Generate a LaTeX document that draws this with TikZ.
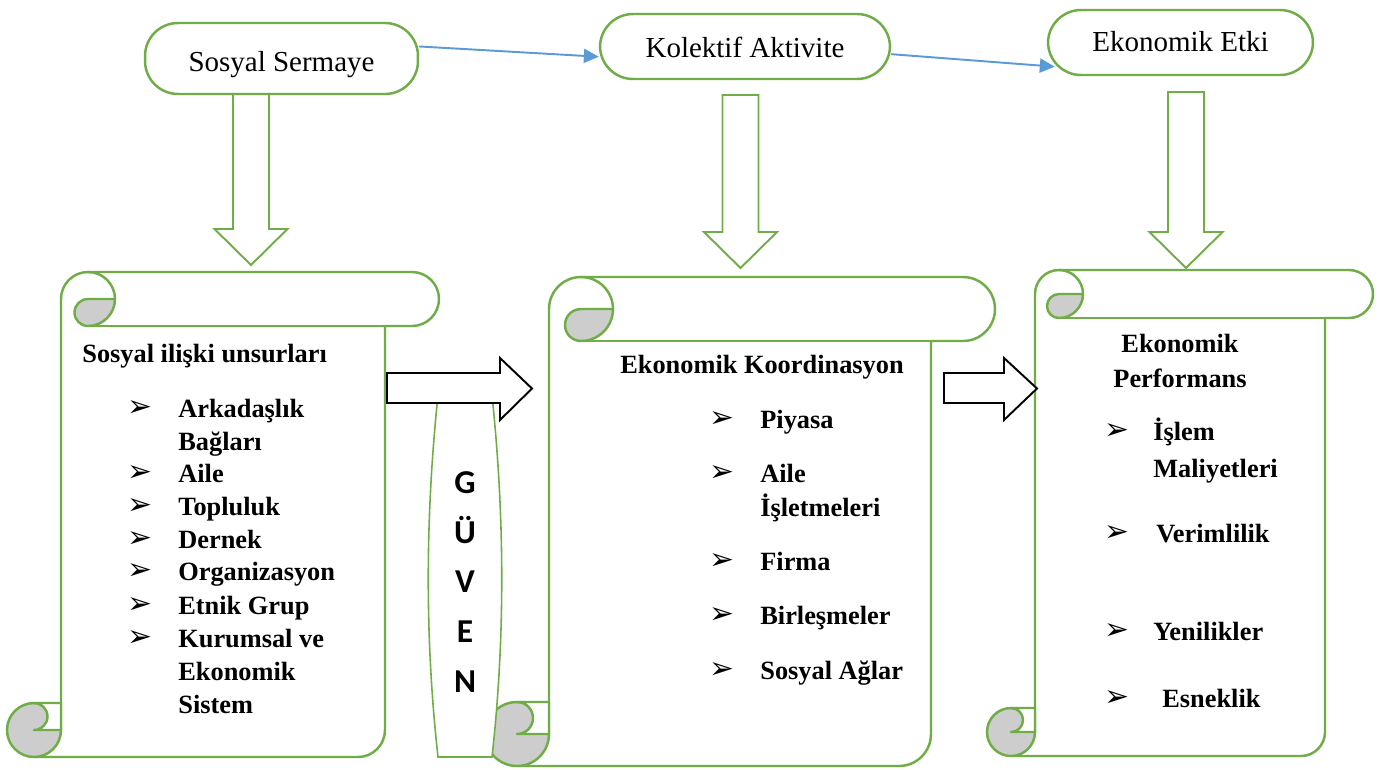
\documentclass[tikz,border=0pt]{standalone}
\usepackage{fontspec}
\setmainfont{Liberation Serif}
\newfontfamily\bulletfont{DejaVu Sans}
\newfontfamily\guvenfont{Carlito}
\usetikzlibrary{arrows.meta}
\definecolor{scrollgreen}{HTML}{70AD47}
\definecolor{linkblue}{HTML}{5B9BD5}
\definecolor{curlgray}{HTML}{CDCDCD}

\tikzset{
  topbox/.style={draw=scrollgreen, line width=1.4pt, fill=white, rounded corners=0.66cm,
    inner sep=0pt, text depth=0pt, text height=#1, font=\fontsize{16.5}{20}\selectfont},
  scroll/.style={draw=scrollgreen, line width=1.4pt, fill=white, line join=round},
  curl/.style={scroll, fill=curlgray},
  downarrow/.style={draw=scrollgreen, line width=1.1pt, fill=white},
  blockarrow/.style={draw=black, line width=1.1pt, fill=white},
  link/.style={draw=linkblue, line width=1.1pt, -{Triangle[length=8.5pt,width=8pt]}},
  item/.style={anchor=base west, inner sep=0pt, font=\bfseries\fontsize{15}{18}\selectfont},
  head/.style={item, anchor=base},
  bul/.style={inner sep=0pt, font=\bulletfont\fontsize{17}{19}\selectfont},
}

\begin{document}
\begin{tikzpicture}[x=0.02cm,y=-0.02cm]
\useasboundingbox[fill=white] (0,0) rectangle (1386,769);

% the three scrolls
\foreach \l/\t/\r/\b/\c in {7/272/439/757/54, 485/277/995/766/64, 987/270/1373/756/48}{
  \pgfmathsetmacro{\h}{\c/2}
  \pgfmathsetmacro{\q}{\c/4}
  \draw[scroll] (\l+\c,\b-\h) -- (\l+\c,\t+\h) arc[start angle=180,end angle=270,radius=\h]
    -- (\r-\h,\t) arc[start angle=270,end angle=450,radius=\h] -- (\r-\c,\t+\c)
    -- (\r-\c,\b-\h) arc[start angle=0,end angle=90,radius=\h] -- (\l+\h,\b);
  \draw[scroll, fill=none] (\l+\c+\h,\t) arc[start angle=270,end angle=360,radius=\h];
  \draw[scroll] (\l+\c+\h,\t+\c) -- (\r-\h,\t+\c);
  \draw[curl] (\l+\c+\h,\t+\h) -- (\l+2*\c,\t+\h) arc[start angle=0,end angle=90,radius=\h]
    arc[start angle=90,end angle=270,radius=\q] -- cycle;
  \draw[curl] (\l+\h,\b-\h) circle[radius=\h];
  \draw[scroll] (\l+\h,\b-\c) -- (\l+\c,\b-\c) -- (\l+\c,\b-\h) -- (\l+\h,\b-\h)
    arc[start angle=90,end angle=-90,radius=\q] -- cycle;
}

% trust
\draw[scrollgreen, line width=0.9pt, fill=white] (438,395) .. controls (425,520) and (425,640) .. (438,757)
  -- (492,757) .. controls (505,640) and (505,520) .. (492,395) -- cycle;
\node[inner sep=0pt, align=center, font=\guvenfont\bfseries\fontsize{19}{28.2}\selectfont] (guven) at (465,582) {G\\Ü\\V\\E\\N};

% block arrows between the scrolls
\foreach \xa/\xh/\xt in {387/500/532, 944/1004/1037}
  \draw[blockarrow] (\xa,373) -- (\xh,373) -- (\xh,358) -- (\xt,388.5) -- (\xh,420) -- (\xh,403) -- (\xa,403) -- cycle;

% down arrows
\foreach \x/\a/\s/\e in {251/94/229/265, 740.5/95/232/268, 1186/92/232/268}
  \draw[downarrow] (\x-18,\a) -- (\x-18,\s) -- (\x-36.5,\s) -- (\x,\e) -- (\x+36.5,\s) -- (\x+18,\s) -- (\x+18,\a) -- cycle;

% top row
\node[topbox=15.3pt, minimum width=5.46cm, minimum height=1.42cm] (ss) at (281.5,58.5) {Sosyal Sermaye};
\node[topbox=12pt, minimum width=5.8cm, minimum height=1.3cm] (ka) at (745,46.5) {Kolektif Aktivite};
\node[topbox=10.8pt, minimum width=5.3cm, minimum height=1.3cm] (ee) at (1180.5,42.5) {Ekonomik Etki};
\draw[link] (ss.5) -- (ka.184);
\draw[link, shorten >=-0.16cm] (ka.-3) -- (ee.190);

% left scroll
\node[item] (h1) at (82,362) {Sosyal ilişki unsurları};
\foreach \txt/\yb [count=\i] in {Arkadaşlık/417, Bağları/450, Aile/482, Topluluk/515, Dernek/548,
    Organizasyon/580, Etnik Grup/614, Kurumsal ve/647, Ekonomik/680, Sistem/713}
  \node[item] (sl\i) at (178,\yb) {\txt};
\foreach \yb [count=\i] in {409,474,507,540,572,606,639}
  \node[bul] (bl\i) at (140,\yb) {➢};

% middle scroll
\node[head] (h2) at (762,373) {Ekonomik Koordinasyon};
\foreach \txt/\yb [count=\i] in {Piyasa/428, Aile/482, İşletmeleri/516, Firma/570, Birleşmeler/624, Sosyal Ağlar/679}
  \node[item] (ml\i) at (760,\yb) {\txt};
\foreach \yb [count=\i] in {420,474,562,616,671}
  \node[bul] (bm\i) at (722,\yb) {➢};

% right scroll
\node[head] (h3) at (1180,352) {Ekonomik};
\node[head] (h3b) at (1180,387) {Performans};
\foreach \txt/\xa/\yb [count=\i] in {İşlem/1153/440, Maliyetleri/1153/477, Verimlilik/1156/542,
    Yenilikler/1153/640, Esneklik/1162/707}
  \node[item] (rl\i) at (\xa,\yb) {\txt};
\foreach \yb [count=\i] in {432,534,632,699}
  \node[bul] (br\i) at (1117,\yb) {➢};

\end{tikzpicture}
\end{document}
